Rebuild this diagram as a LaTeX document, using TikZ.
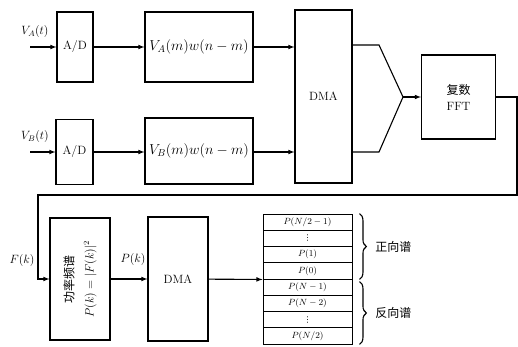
\documentclass[tikz,border=0pt]{standalone}
\usepackage{amsmath}
\usepackage{fontspec}
\newfontfamily\cjk{Noto Sans CJK SC}
\newfontfamily\symf{DejaVu Sans}
\usetikzlibrary{arrows,decorations.pathreplacing}
\tikzstyle{arrow} = [line width=1.1pt,->,>=latex]
\tikzstyle{wire} = [line width=1.1pt]
\newcommand{\rowdots}{{\symf\footnotesize ⋮}}

\begin{document}
\begin{tikzpicture}
    [x=1pt,y=-1pt,blk/.style={draw, line width=1.1pt, inner sep=0pt},
    cell/.style={draw, line width=0.9pt, inner sep=0pt, minimum width=89pt,
    minimum height=16.25pt, font=\small}]
    \useasboundingbox (0,0) rectangle (518,347);
    % upper and lower input channels
    \node[blk, minimum width=36pt, minimum height=70pt] (ad1) at (75,47) {\large A/D};
    \node[blk, minimum width=108pt, minimum height=70pt] (win1) at (199,47) {\Large $V_A(m)w(n-m)$};
    \node[blk, minimum width=37pt, minimum height=65pt] (ad2) at (74.5,152) {\large A/D};
    \node[blk, minimum width=108pt, minimum height=66pt] (win2) at (199,151) {\Large $V_B(m)w(n-m)$};
    \node[blk, minimum width=57pt, minimum height=173pt] (dma1) at (323.5,96.5) {\large DMA};
    \node[blk, minimum width=74pt, minimum height=84pt, align=center] (fft) at (458.5,97)
        {\large\cjk 复数\\[4pt] \large FFT};
    \coordinate (ina) at (30,47);
    \coordinate (inb) at (30,152);
    \node (va) at (35,32) {\large $V_A(t)$};
    \node (vb) at (35,137) {\large $V_B(t)$};
    \coordinate (j1) at (379,45);
    \coordinate (j2) at (379,152);
    \coordinate (m) at (403,97);
    \draw[arrow] (ina) -- (ad1);
    \draw[arrow] (inb) -- (inb -| ad2.west);
    \draw[arrow] (ad1) -- (win1);
    \draw[arrow] (ad2.east |- inb) -- (inb -| win2.west);
    \draw[arrow] (win1) -- (win1 -| dma1.west);
    \draw[arrow] (win2.east |- inb) -- (inb -| dma1.west);
    \draw[wire] (dma1.east |- j1) -- (j1) -- (m);
    \draw[wire] (dma1.east |- j2) -- (j2) -- (m);
    \draw[arrow] (m) -- (fft.west |- m);
    % spectrum and storage
    \node[blk, minimum width=60pt, minimum height=122pt] (pw) at (80,279) {};
    \node[rotate=90, align=center, inner sep=0pt] (pwt) at (pw.center)
        {\large\cjk 功率频谱\\[8pt] \large $P(k)=|F(k)|^2$};
    \node[blk, minimum width=60pt, minimum height=124pt] (dma2) at (178,279) {\large DMA};
    \coordinate (c1) at (517,97);
    \coordinate (c2) at (517,195);
    \coordinate (c3) at (38,195);
    \draw[arrow] (fft.east |- c1) -- (c1) -- (c2) -- (c3) -- (c3 |- pw.west) -- (pw.west);
    \node (fk) at (22,260) {\large $F(k)$};
    \draw[arrow] (pw) -- (dma2);
    \node (pk) at (133,259) {\large $P(k)$};
    \foreach \t [count=\i] in {$P(N/2-1)$, \rowdots, $P(1)$, $P(0)$,
        $P(N-1)$, $P(N-2)$, \rowdots, $P(N/2)$}
    \node[cell] (r\i) at (307.5,205.875+16.25*\i) {\t};
    \draw[arrow] (dma2) -- (r4.south west);
    \draw[wire, decorate, decoration={brace, amplitude=7pt}]
        ([xshift=7pt]r1.north east) -- ([xshift=7pt]r4.south east)
        node[midway, right=12pt] (fw) {\large\cjk 正向谱};
    \draw[wire, decorate, decoration={brace, amplitude=7pt}]
        ([xshift=7pt, yshift=-3pt]r5.north east) -- ([xshift=7pt]r8.south east)
        node[midway, right=12pt] (bw) {\large\cjk 反向谱};
\end{tikzpicture}
\end{document}
